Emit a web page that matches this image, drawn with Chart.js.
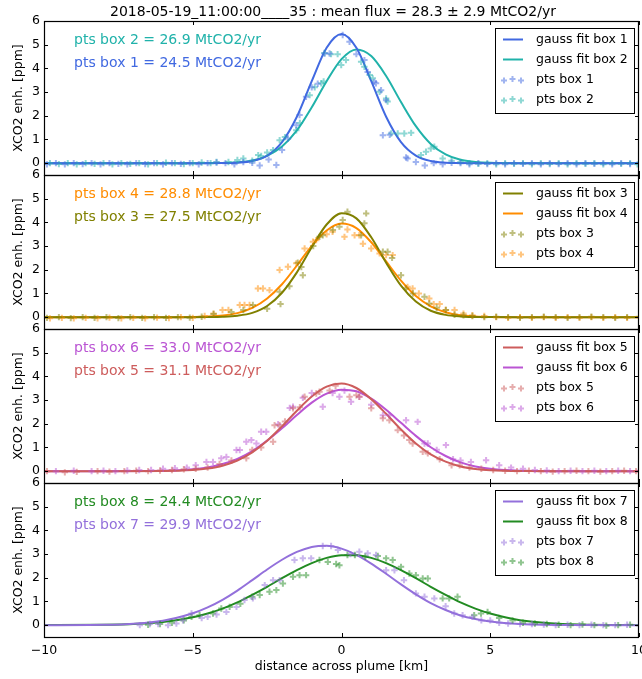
<!DOCTYPE html>
<html>
<head>
<meta charset="utf-8">
<script src="https://cdn.jsdelivr.net/npm/chart.js@4"></script>
<style>
  html, body { margin: 0; padding: 0; background: #fff; }
  #wrap { position: relative; width: 642px; height: 679px; }
</style>
</head>
<body>
<div id="wrap"><canvas id="plumeChart" width="642" height="679"></canvas></div>
<script>
// title and labels
const titleText = "2018-05-19_11:00:00____35 : mean flux = 28.3 \u00b1 2.9 MtCO2/yr";
const yTitle = "XCO2 enh. [ppm]";
const xTitle = "distance across plume [km]";

const xTicks = [-10, -5, 0, 5, 10];
const yTicks = [0, 1, 2, 3, 4, 5, 6];

// box colours and fluxes (MtCO2/yr), box 1..8
const boxColors = ["#4169E1", "#20B2AA", "#808000", "#FF8C00", "#CD5C5C", "#BA55D3", "#9370DB", "#228B22"];
const boxFlux = [24.5, 26.9, 27.5, 28.8, 31.1, 33.0, 29.9, 24.4];

// gauss fit curves
const fitX = [-10, -8, -6, -5, -4.5, -4, -3.5, -3, -2.5, -2, -1.5, -1, -0.5, 0, 0.5, 1, 1.5, 2, 2.5, 3, 3.5, 4, 4.5, 5, 6, 8, 10];
const fit1 = [0, 0, 0, 0, 0, 0.004, 0.02, 0.09, 0.32, 0.89, 1.96, 3.46, 4.87, 5.45, 4.87, 3.46, 1.96, 0.89, 0.32, 0.09, 0.02, 0.004, 0, 0, 0, 0, 0];
const fit2 = [0, 0, 0, 0.001, 0.003, 0.01, 0.037, 0.115, 0.31, 0.70, 1.38, 2.36, 3.46, 4.39, 4.80, 4.52, 3.68, 2.58, 1.56, 0.81, 0.37, 0.14, 0.05, 0.014, 0.001, 0, 0];
const fit3 = [0, 0, 0, 0, 0.004, 0.017, 0.061, 0.18, 0.47, 1.03, 1.89, 2.95, 3.91, 4.39, 4.17, 3.37, 2.30, 1.33, 0.66, 0.27, 0.096, 0.029, 0.007, 0.0015, 0, 0, 0];
const fit4 = [0, 0, 0.0005, 0.007, 0.023, 0.068, 0.17, 0.39, 0.79, 1.39, 2.18, 3.01, 3.66, 3.95, 3.76, 3.16, 2.35, 1.54, 0.89, 0.46, 0.21, 0.08, 0.03, 0.01, 0.001, 0, 0];
const fit5 = [0, 0, 0.007, 0.048, 0.11, 0.23, 0.45, 0.79, 1.28, 1.89, 2.55, 3.15, 3.57, 3.70, 3.51, 3.04, 2.42, 1.76, 1.17, 0.71, 0.40, 0.20, 0.095, 0.04, 0.006, 0, 0];
const fit6 = [0, 0, 0.015, 0.077, 0.16, 0.30, 0.52, 0.85, 1.29, 1.81, 2.37, 2.89, 3.27, 3.44, 3.37, 3.06, 2.59, 2.04, 1.49, 1.01, 0.64, 0.37, 0.20, 0.10, 0.021, 0, 0];
const fit7 = [0, 0.015, 0.19, 0.50, 0.75, 1.07, 1.46, 1.90, 2.35, 2.76, 3.09, 3.30, 3.35, 3.23, 2.97, 2.60, 2.17, 1.72, 1.30, 0.93, 0.64, 0.41, 0.26, 0.15, 0.045, 0.002, 0];
const fit8 = [0.002, 0.013, 0.13, 0.33, 0.49, 0.70, 0.96, 1.28, 1.62, 1.98, 2.32, 2.62, 2.84, 2.95, 2.95, 2.84, 2.62, 2.32, 1.98, 1.62, 1.28, 0.96, 0.70, 0.49, 0.21, 0.024, 0.002];

// measured points [x km, enhancement ppm]
const pts1 = [[-9.9,-0.05],[-9.6,0],[-9.3,-0.05],[-9.0,0],[-8.7,-0.04],[-8.4,0],[-8.1,-0.05],[-7.8,0],[-7.5,-0.03],[-7.2,-0.05],[-6.9,0],[-6.6,-0.04],[-6.3,0],[-6.0,-0.05],[-5.7,0],[-5.4,-0.03],[-5.1,0],[-4.8,-0.05],[-4.5,0],[-4.2,0.03],[-3.9,0],[-3.6,-0.05],[-3.3,0.05],[-3.0,0.02],[-2.75,-0.1],[-2.45,0.15],[-2.19,-0.08],[-2.0,0.55],[-1.8,1.04],[-1.52,1.6],[-1.41,2.03],[-1.19,2.8],[-1.0,3.2],[-0.8,3.35],[-0.57,4.63],[-0.4,4.63],[0.04,5.41],[0.27,5.12],[0.5,4.6],[0.77,4.35],[0.88,3.85],[1.1,3.43],[1.16,3.37],[1.33,3.08],[1.5,2.66],[1.39,1.18],[1.62,1.2],[2.17,0.24],[2.22,0.2],[2.5,0.05],[2.8,-0.1],[3.1,0],[3.4,-0.05],[3.7,0.02],[4.0,0],[4.3,-0.05],[4.6,0],[4.9,-0.04],[5.2,0],[5.5,-0.05],[5.8,0],[6.1,-0.03],[6.4,0],[6.7,-0.05],[7.0,0],[7.3,-0.04],[7.6,0],[7.9,-0.05],[8.2,0],[8.5,-0.03],[8.8,0],[9.1,-0.05],[9.4,0],[9.7,-0.04],[10.0,0]];
const pts2 = [[-9.8,0],[-9.5,-0.04],[-9.2,0],[-8.9,-0.05],[-8.6,0],[-8.3,-0.03],[-8.0,0],[-7.7,-0.05],[-7.4,0],[-7.1,-0.03],[-6.8,0],[-6.5,-0.05],[-6.2,0],[-5.9,0.02],[-5.6,0],[-5.3,-0.04],[-5.0,0],[-4.7,0.03],[-4.4,0],[-4.2,0.05],[-3.8,0.05],[-3.5,0.13],[-3.3,0.2],[-3.0,0.1],[-2.8,0.34],[-2.7,0.3],[-2.5,0.45],[-2.3,0.55],[-2.08,0.97],[-1.9,1.1],[-1.52,1.39],[-1.4,1.7],[-1.07,2.87],[-0.9,3.2],[-0.68,3.37],[-0.6,3.45],[-0.57,4.65],[-0.35,4.6],[-0.13,4.6],[-0.01,4.14],[0.15,4.35],[0.66,4.28],[0.77,4.07],[0.95,3.72],[1.05,3.58],[1.28,3.01],[1.5,2.73],[1.55,2.6],[1.67,1.25],[1.89,1.25],[2.11,1.25],[2.34,1.28],[2.67,0.34],[2.84,0.48],[3.0,0.62],[3.12,0.69],[3.4,0.2],[3.7,0.1],[4.0,0.05],[4.3,0],[4.6,-0.03],[4.9,0],[5.2,-0.05],[5.5,0],[5.8,-0.03],[6.1,0],[6.4,-0.05],[6.7,0],[7.0,-0.04],[7.3,0],[7.6,-0.05],[7.9,0],[8.2,-0.03],[8.5,0],[8.8,-0.05],[9.1,0],[9.4,-0.03],[9.7,0],[9.95,-0.05]];
const pts3 = [[-9.9,-0.03],[-9.5,0],[-9.1,-0.04],[-8.7,0],[-8.3,-0.03],[-7.9,0],[-7.5,-0.04],[-7.1,0],[-6.7,-0.03],[-6.3,0],[-5.9,-0.03],[-5.5,0],[-5.1,-0.02],[-4.7,0.02],[-4.3,0.13],[-3.7,0.22],[-3.3,0.3],[-2.98,0.51],[-2.5,0.35],[-2.08,1.07],[-2.05,0.55],[-1.75,1.3],[-1.47,2.3],[-1.35,2.12],[-1.3,1.77],[-0.95,3.0],[-0.74,3.39],[-0.63,3.46],[-0.29,3.68],[-0.07,3.82],[0.04,4.1],[0.2,4.45],[0.66,3.46],[0.77,3.96],[0.83,4.38],[1.39,2.76],[1.55,2.76],[1.7,2.5],[2.0,1.77],[2.17,1.21],[2.4,1.0],[2.79,0.86],[2.95,0.58],[3.2,0.4],[3.51,0.3],[3.8,0.1],[4.1,0.08],[4.4,0.05],[4.8,0],[5.2,0.02],[5.6,0],[6.0,-0.03],[6.4,0],[6.8,0.02],[7.2,0],[7.6,-0.03],[8.0,0],[8.4,0.02],[8.8,0],[9.2,-0.03],[9.6,0],[10.0,0.02]];
const pts4 = [[-9.8,-0.05],[-9.4,-0.03],[-9.0,-0.05],[-8.6,-0.03],[-8.2,-0.05],[-7.8,-0.02],[-7.4,-0.05],[-7.0,-0.03],[-6.6,-0.05],[-6.2,-0.02],[-5.8,-0.04],[-5.4,0],[-5.0,-0.03],[-4.6,0.05],[-4.3,0.15],[-4.0,0.3],[-3.8,0.3],[-3.42,0.51],[-3.26,0.51],[-3.09,0.51],[-2.81,1.21],[-2.64,1.21],[-2.42,1.14],[-2.08,1.99],[-1.8,2.13],[-1.52,2.27],[-1.24,2.9],[-0.96,3.18],[-0.85,3.25],[-0.5,3.5],[-0.3,3.6],[0.1,3.39],[0.2,3.7],[0.44,3.46],[0.6,3.46],[0.72,3.1],[1.0,2.9],[1.28,2.69],[1.5,2.62],[1.72,2.62],[2.22,1.28],[2.39,1.21],[2.6,1.0],[2.95,0.79],[3.1,0.55],[3.3,0.55],[3.5,0.3],[3.8,0.3],[4.1,0.15],[4.4,0.08],[4.8,0.05],[5.2,0],[5.6,-0.03],[6.0,0],[6.4,-0.03],[6.8,0],[7.2,-0.03],[7.6,0],[8.0,-0.03],[8.4,0],[8.8,-0.03],[9.2,0],[9.6,-0.03],[10.0,0]];
const pts5 = [[-9.9,0],[-9.3,-0.05],[-8.9,-0.03],[-8.2,0],[-7.8,-0.02],[-7.3,0],[-6.9,0.02],[-6.5,0],[-6.1,0.03],[-5.7,0.05],[-5.3,0.08],[-4.9,0.1],[-4.5,0.15],[-4.1,0.3],[-3.7,0.45],[-3.2,0.54],[-3.0,0.9],[-2.7,1.0],[-2.3,1.24],[-2.25,1.94],[-2.08,1.94],[-1.9,2.1],[-1.63,2.65],[-1.4,2.7],[-1.24,3.14],[-0.85,3.28],[-0.74,3.35],[-0.4,3.4],[-0.2,3.6],[0.27,3.14],[0.5,3.2],[0.6,3.14],[1.0,2.65],[1.39,2.23],[1.61,2.15],[1.89,1.73],[2.1,1.5],[2.28,1.31],[2.39,1.17],[2.73,0.82],[2.9,0.75],[3.3,0.5],[3.7,0.25],[3.97,0.25],[4.3,0.15],[4.7,0.1],[5.1,0.05],[5.5,0.02],[5.9,0],[6.3,0.02],[6.7,0],[7.1,-0.02],[7.5,0],[7.9,0.02],[8.3,0],[8.7,-0.02],[9.1,0],[9.5,0.02],[9.9,0]];
const pts6 = [[-9.6,0],[-9.0,0.02],[-8.4,0],[-8.0,0.02],[-7.6,0],[-7.2,0.03],[-6.8,0.05],[-6.4,0.05],[-6.0,0.1],[-5.6,0.12],[-5.2,0.15],[-4.9,0.25],[-4.54,0.39],[-4.32,0.39],[-4.04,0.54],[-3.87,0.6],[-3.53,0.89],[-3.42,0.89],[-3.2,1.24],[-3.03,1.31],[-2.86,1.17],[-2.7,1.66],[-2.53,1.66],[-2.13,1.98],[-1.74,2.67],[-1.63,2.72],[-1.3,3.1],[-1.0,3.3],[-0.63,2.72],[-0.3,3.3],[-0.07,3.14],[0.1,3.4],[0.32,2.93],[0.6,3.14],[1.0,2.8],[1.39,2.36],[1.61,2.36],[2.17,2.15],[2.56,2.08],[2.79,1.17],[2.9,1.17],[3.2,0.9],[3.51,1.1],[3.75,0.5],[4.0,0.45],[4.35,0.39],[4.86,0.46],[5.3,0.25],[5.7,0.15],[6.1,0.1],[6.5,0.05],[6.9,0.03],[7.3,0],[7.7,0.02],[8.1,0],[8.5,0.02],[8.9,0],[9.3,0.02],[9.7,0],[10.0,0.02]];
const pts7 = [[-6.78,0],[-6.44,0.05],[-6.16,0.05],[-5.83,0],[-5.55,0.07],[-5.33,0.21],[-5.04,0.49],[-4.7,0.3],[-4.5,0.35],[-4.2,0.45],[-3.87,0.56],[-3.53,0.77],[-3.26,1.06],[-2.98,1.13],[-2.58,1.69],[-2.3,1.9],[-2.08,1.9],[-1.58,2.75],[-1.3,2.82],[-1.02,2.82],[-0.63,3.34],[-0.35,3.34],[-0.12,3.17],[0.3,3.0],[0.6,3.1],[0.88,3.03],[1.16,2.96],[1.5,2.32],[1.78,2.32],[2.1,1.9],[2.5,1.34],[2.79,1.2],[3.12,1.13],[3.5,0.8],[3.79,0.49],[4.07,0.42],[4.4,0.35],[4.7,0.2],[5.0,0.2],[5.3,0.1],[5.6,0.07],[6.0,0.05],[6.4,0.05],[6.8,0.03],[7.2,0],[7.6,0.02],[8.0,0],[8.4,0.02],[8.8,0],[9.2,0],[9.6,0.02],[10.0,0]];
const pts8 = [[-6.5,0.02],[-6.1,0.05],[-5.7,0.1],[-5.3,0.2],[-5.04,0.35],[-4.77,0.42],[-4.32,0.49],[-4.04,0.7],[-3.76,0.77],[-3.4,0.9],[-3.0,1.2],[-2.75,1.27],[-2.42,1.41],[-2.19,1.48],[-1.97,1.76],[-1.63,2.04],[-1.41,2.11],[-1.19,2.11],[-0.74,2.75],[-0.46,2.67],[-0.18,2.58],[-0.07,2.53],[0.2,2.96],[0.45,2.96],[0.8,2.9],[1.22,2.92],[1.5,2.82],[1.72,2.75],[2.0,2.46],[2.28,2.18],[2.5,2.11],[2.73,1.97],[2.9,1.97],[3.4,1.13],[3.62,1.13],[3.9,1.2],[4.46,0.42],[4.69,0.49],[4.91,0.56],[5.3,0.3],[5.75,0.2],[6.1,0.1],[6.5,0.07],[6.9,0.05],[7.3,0.02],[7.7,0],[8.1,0.03],[8.5,0],[8.9,-0.02],[9.3,0],[9.7,0.02],[10.0,0]];

const fits = [fit1, fit2, fit3, fit4, fit5, fit6, fit7, fit8];
const pts = [pts1, pts2, pts3, pts4, pts5, pts6, pts7, pts8];
const panelAxes = ["yA", "yB", "yC", "yD"]; // top to bottom

function alpha(hex, a) {
    const n = parseInt(hex.slice(1), 16);
    return "rgba(" + (n >> 16) + "," + ((n >> 8) & 255) + "," + (n & 255) + "," + a + ")";
}
function fmt(v) {
    return v < 0 ? "\u2212" + Math.abs(v) : String(v);
}

Chart.defaults.font.family = "'DejaVu Sans', sans-serif";
Chart.defaults.font.size = 12.5;
Chart.defaults.color = "#000";

const datasets = [];
for (let i = 0; i < 8; i++) {
    const axis = panelAxes[Math.floor(i / 2)];
    datasets.push({
        label: "pts box " + (i + 1),
        data: pts[i].map(p => ({ x: p[0], y: p[1] })),
        yAxisID: axis,
        showLine: false,
        pointStyle: "cross",
        pointRadius: 3.2,
        pointBorderWidth: 2,
        borderColor: alpha(boxColors[i], 0.5),
        backgroundColor: alpha(boxColors[i], 0.5)
    });
}
for (let i = 0; i < 8; i++) {
    const axis = panelAxes[Math.floor(i / 2)];
    datasets.push({
        label: "gauss fit box " + (i + 1),
        data: fitX.map((x, j) => ({ x: x, y: fits[i][j] })),
        yAxisID: axis,
        showLine: true,
        pointRadius: 0,
        borderWidth: 2,
        borderColor: boxColors[i],
        cubicInterpolationMode: "monotone",
        fill: false
    });
}

function yScale() {
    return {
        type: "linear",
        position: "left",
        stack: "panels",
        stackWeight: 1,
        min: -0.5,
        max: 6,
        afterBuildTicks: s => { s.ticks = yTicks.map(v => ({ value: v })); },
        afterFit: s => { s.width = 44; s.paddingTop = 0; s.paddingBottom = 0; },
        grid: { display: false, drawTicks: false },
        border: { display: false },
        ticks: { padding: 4, autoSkip: false, callback: v => fmt(v) }
    };
}

// frames, inward ticks, legends, labels
const decorations = {
    id: "decorations",
    afterDraw(chart) {
        const ctx = chart.ctx;
        const area = chart.chartArea;
        const xs = chart.scales.x;
        ctx.save();
        ctx.fillStyle = "#000";
        ctx.textBaseline = "middle";
        ctx.textAlign = "center";
        ctx.font = "14px 'DejaVu Sans'";
        ctx.fillText(titleText, 333, 12);
        ctx.font = "12.5px 'DejaVu Sans'";
        ctx.fillText(xTitle, (area.left + area.right) / 2, 667);

        panelAxes.forEach((id, k) => {
            const ys = chart.scales[id];
            const top = ys.top, bottom = ys.bottom;
            ctx.strokeStyle = "#000";
            ctx.lineWidth = 1;
            ctx.beginPath();
            xTicks.forEach(v => {
                const px = Math.round(xs.getPixelForValue(v)) + 0.5;
                ctx.moveTo(px, top); ctx.lineTo(px, top + 4);
                ctx.moveTo(px, bottom); ctx.lineTo(px, bottom - 4);
            });
            yTicks.forEach(v => {
                const py = Math.round(ys.getPixelForValue(v)) + 0.5;
                ctx.moveTo(area.left, py); ctx.lineTo(area.left + 4, py);
                ctx.moveTo(area.right, py); ctx.lineTo(area.right - 4, py);
            });
            ctx.stroke();
            ctx.lineWidth = 1.2;
            ctx.strokeRect(Math.round(area.left) + 0.5, Math.round(top) + 0.5, Math.round(area.right - area.left) - 1, Math.round(bottom - top));

            // y axis title
            ctx.save();
            ctx.translate(19, (top + bottom) / 2);
            ctx.rotate(-Math.PI / 2);
            ctx.fillStyle = "#000";
            ctx.textAlign = "center";
            ctx.font = "12.5px 'DejaVu Sans'";
            ctx.fillText(yTitle, 0, 0);
            ctx.restore();

            const a = 2 * k, b = 2 * k + 1;
            // flux annotations
            ctx.font = "14px 'DejaVu Sans'";
            ctx.textAlign = "left";
            ctx.fillStyle = boxColors[b];
            ctx.fillText("pts box " + (b + 1) + " = " + boxFlux[b].toFixed(1) + " MtCO2/yr", 74, top + 19.5);
            ctx.fillStyle = boxColors[a];
            ctx.fillText("pts box " + (a + 1) + " = " + boxFlux[a].toFixed(1) + " MtCO2/yr", 74, top + 42.5);

            // legend
            ctx.font = "12.5px 'DejaVu Sans'";
            const lx = 495, ly = top + 7;
            ctx.fillStyle = "#fff";
            ctx.fillRect(lx, ly, 139, 85);
            ctx.strokeStyle = "#000";
            ctx.lineWidth = 1;
            ctx.strokeRect(lx + 0.5, ly + 0.5, 139, 85);
            const rows = [top + 18.5, top + 38.5, top + 59, top + 79];
            [a, b].forEach((i, r) => {
                ctx.strokeStyle = boxColors[i];
                ctx.lineWidth = 2;
                ctx.beginPath();
                ctx.moveTo(503, rows[r]); ctx.lineTo(523, rows[r]);
                ctx.stroke();
                ctx.fillStyle = "#000";
                ctx.fillText("gauss fit box " + (i + 1), 536, rows[r]);
            });
            [a, b].forEach((i, r) => {
                const y = rows[r + 2];
                ctx.strokeStyle = alpha(boxColors[i], 0.5);
                ctx.lineWidth = 2;
                [[504, 0.5], [512.5, -1], [521, 0.5]].forEach(m => {
                    ctx.beginPath();
                    ctx.moveTo(m[0] - 3, y + m[1]); ctx.lineTo(m[0] + 3, y + m[1]);
                    ctx.moveTo(m[0], y + m[1] - 3); ctx.lineTo(m[0], y + m[1] + 3);
                    ctx.stroke();
                });
                ctx.fillStyle = "#000";
                ctx.fillText("pts box " + (i + 1), 536, y);
            });
        });
        ctx.restore();
    }
};

const scales = {
    x: {
        type: "linear",
        position: "bottom",
        min: -10,
        max: 10,
        afterBuildTicks: s => { s.ticks = xTicks.map(v => ({ value: v })); },
        afterFit: s => { s.height = 42; s.paddingLeft = 0; s.paddingRight = 0; },
        grid: { display: false, drawTicks: false },
        border: { display: false },
        ticks: { padding: 6, maxRotation: 0, autoSkip: false, callback: v => fmt(v) }
    },
    yD: yScale(),
    yC: yScale(),
    yB: yScale(),
    yA: yScale()
};

new Chart(document.getElementById("plumeChart").getContext("2d"), {
    type: "scatter",
    data: { datasets: datasets },
    options: {
        responsive: false,
        animation: false,
        layout: { autoPadding: false, padding: { top: 21, right: 3, bottom: 0, left: 0 } },
        plugins: { legend: { display: false }, tooltip: { enabled: false } },
        scales: scales
    },
    plugins: [decorations]
});
</script>
</body>
</html>
